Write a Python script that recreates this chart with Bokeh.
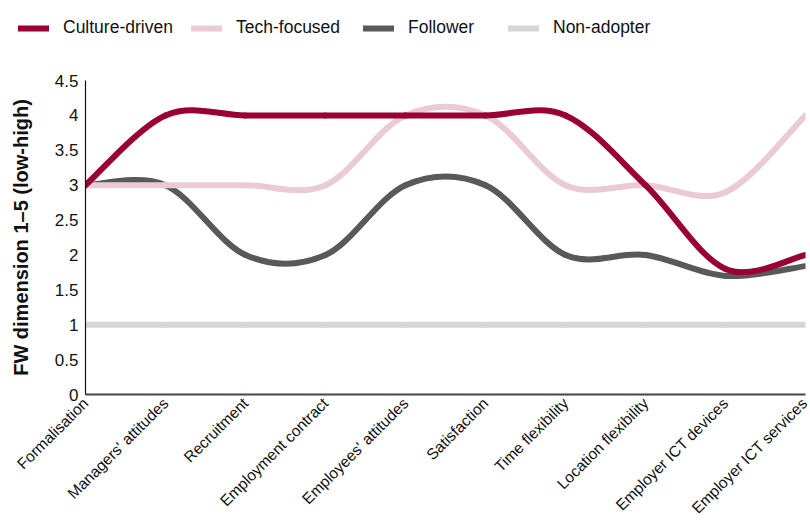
import math
from bokeh.plotting import figure
from bokeh.layouts import column
from bokeh.models import (Range1d, FixedTicker, NumeralTickFormatter, Legend, LegendItem,
                          ColumnDataSource)
from bokeh.embed import file_html
from bokeh.resources import INLINE

# ---- data ----
categories = ["Formalisation", "Managers' attitudes", "Recruitment", "Employment contract",
              "Employees' attitudes", "Satisfaction", "Time flexibility", "Location flexibility",
              "Employer ICT devices", "Employer ICT services"]
culture_driven = [3, 4, 4, 4, 4, 4, 4, 3, 1.8, 2]
tech_focused = [3, 3, 3, 3, 4, 4, 3, 3, 2.9, 4]
follower = [3, 3, 2, 2, 3, 3, 2, 2, 1.7, 1.84]
non_adopter = [1, 1, 1, 1, 1, 1, 1, 1, 1, 1]
y_ticks = [0, 0.5, 1, 1.5, 2, 2.5, 3, 3.5, 4, 4.5]

series = [
    ("Culture-driven", culture_driven, "#990033"),
    ("Tech-focused", tech_focused, "#ebcbd3"),
    ("Follower", follower, "#58595b"),
    ("Non-adopter", non_adopter, "#d6d6d6"),
]

FONT = "Liberation Sans"
LINE_W = 6


def cardinal_segments(ys):
    """Bezier segments of a Catmull-Rom (cardinal, tension 0) curve through the points."""
    n = len(ys)
    xs = list(range(n))
    d = dict(x0=[], y0=[], x1=[], y1=[], cx0=[], cy0=[], cx1=[], cy1=[])
    for i in range(n - 1):
        im1 = max(i - 1, 0)
        ip2 = min(i + 2, n - 1)
        d["x0"].append(xs[i]); d["y0"].append(ys[i])
        d["x1"].append(xs[i + 1]); d["y1"].append(ys[i + 1])
        d["cx0"].append(xs[i] + (xs[i + 1] - xs[im1]) / 6)
        d["cy0"].append(ys[i] + (ys[i + 1] - ys[im1]) / 6)
        d["cx1"].append(xs[i + 1] - (xs[ip2] - xs[i]) / 6)
        d["cy1"].append(ys[i + 1] - (ys[ip2] - ys[i]) / 6)
    return d


# ---------------- legend strip ----------------
leg = figure(width=810, height=48, output_backend="svg", toolbar_location=None,
             x_range=Range1d(0, len(categories) - 1), y_range=Range1d(-3, -2),
             x_axis_location=None, y_axis_location=None,
             min_border_left=0, min_border_right=0, min_border_top=0, min_border_bottom=0)
leg.frame_align = False
leg.outline_line_color = None
leg.xgrid.visible = False
leg.ygrid.visible = False

legend_x = [18, 191, 363, 508]
for (name, ys, color), lx in zip(series, legend_x):
    # series drawn out of this strip's view; only its legend sample is seen
    r = leg.line(x=list(range(len(ys))), y=ys, line_color=color, line_width=LINE_W,
                 line_cap="round")
    lg = Legend(items=[LegendItem(label=name, renderers=[r])],
                location=(lx, 10), orientation="horizontal",
                glyph_width=31, glyph_height=20, label_height=20, label_standoff=14,
                padding=0, margin=0, spacing=0, border_line_color=None,
                background_fill_alpha=0, label_text_font=FONT,
                label_text_font_size="17.5px", label_text_color="#111111")
    leg.add_layout(lg)

# ---------------- main chart ----------------
p = figure(width=810, height=477, output_backend="svg", toolbar_location=None,
           x_range=Range1d(0, len(categories) - 1), y_range=Range1d(0, 4.5),
           min_border_left=85, min_border_right=5, min_border_top=32, min_border_bottom=100)
p.frame_align = False
p.outline_line_color = None
p.xgrid.visible = False
p.ygrid.visible = False

for name, ys, color in reversed(series):
    src = ColumnDataSource(cardinal_segments(ys))
    p.bezier(x0="x0", y0="y0", x1="x1", y1="y1", cx0="cx0", cy0="cy0", cx1="cx1", cy1="cy1",
             source=src, line_color=color, line_width=LINE_W, line_cap="round",
             line_join="round")

p.xaxis.ticker = FixedTicker(ticks=list(range(len(categories))))
p.xaxis.major_label_overrides = {i: c for i, c in enumerate(categories)}
p.xaxis.major_label_orientation = math.pi / 4
p.xaxis.major_tick_line_color = None
p.xaxis.major_tick_out = 0
p.xaxis.minor_tick_line_color = None
p.xaxis.minor_tick_out = 0
p.xaxis.axis_line_color = "#444444"
p.xaxis.axis_line_width = 2
p.xaxis.major_label_text_font = FONT
p.xaxis.major_label_text_font_size = "15.5px"
p.xaxis.major_label_text_color = "#111111"
p.xaxis.major_label_standoff = 6

p.yaxis.ticker = FixedTicker(ticks=y_ticks)
p.yaxis.formatter = NumeralTickFormatter(format="0.[0]")
p.yaxis.major_tick_line_color = None
p.yaxis.major_tick_out = 0
p.yaxis.minor_tick_line_color = None
p.yaxis.minor_tick_out = 0
p.yaxis.axis_line_color = "#111111"
p.yaxis.axis_line_width = 1.2
p.yaxis.major_label_text_font = FONT
p.yaxis.major_label_text_font_size = "17px"
p.yaxis.major_label_text_color = "#111111"
p.yaxis.major_label_standoff = 7
p.yaxis.axis_label = "FW dimension 1\u20135 (low-high)"
p.yaxis.axis_label_text_font = FONT
p.yaxis.axis_label_text_font_style = "bold"
p.yaxis.axis_label_text_font_size = "20px"
p.yaxis.axis_label_text_color = "#111111"
p.yaxis.axis_label_standoff = 20

layout = column(leg, p, spacing=0)
open("out.html", "w").write(file_html(layout, INLINE))
